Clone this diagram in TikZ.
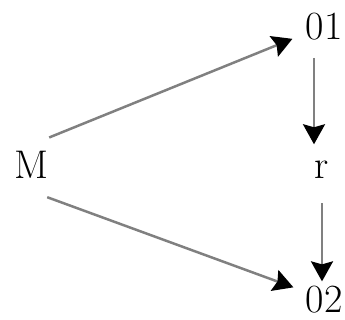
\documentclass[tikz,border=0pt]{standalone}
\usetikzlibrary{arrows.meta}
\begin{document}
\begin{tikzpicture}[x=1pt,y=-1pt,
  lbl/.style={inner sep=0pt,anchor=base,font=\fontsize{40}{48}\selectfont},
  arr/.style={draw=black!50,line width=2.5pt,
    -{Stealth[length=20pt,width=22pt,inset=3pt,color=black]}}]
\useasboundingbox (0,0) rectangle (345,320);
\node[lbl] (M) at (31,179) {M};
\node[lbl] (o1) at (324,40) {01};
\node[lbl] (r) at (322,179) {r};
\node[lbl] (o2) at (324,312) {02};
\draw[arr] ([xshift=1pt,yshift=14pt]M.north east) -- ([xshift=-13pt,yshift=2pt]o1.south west);
\draw[arr] ([xshift=-1pt,yshift=-18pt]M.south east) -- ([xshift=-12pt,yshift=-2pt]o2.north west);
\draw[arr] ([xshift=-10pt,yshift=-17pt]o1.south) -- ([xshift=-8pt,yshift=17pt]r.north);
\draw[arr] ([yshift=-24pt]r.south) -- ([xshift=-2pt,yshift=4pt]o2.north);
\end{tikzpicture}
\end{document}
